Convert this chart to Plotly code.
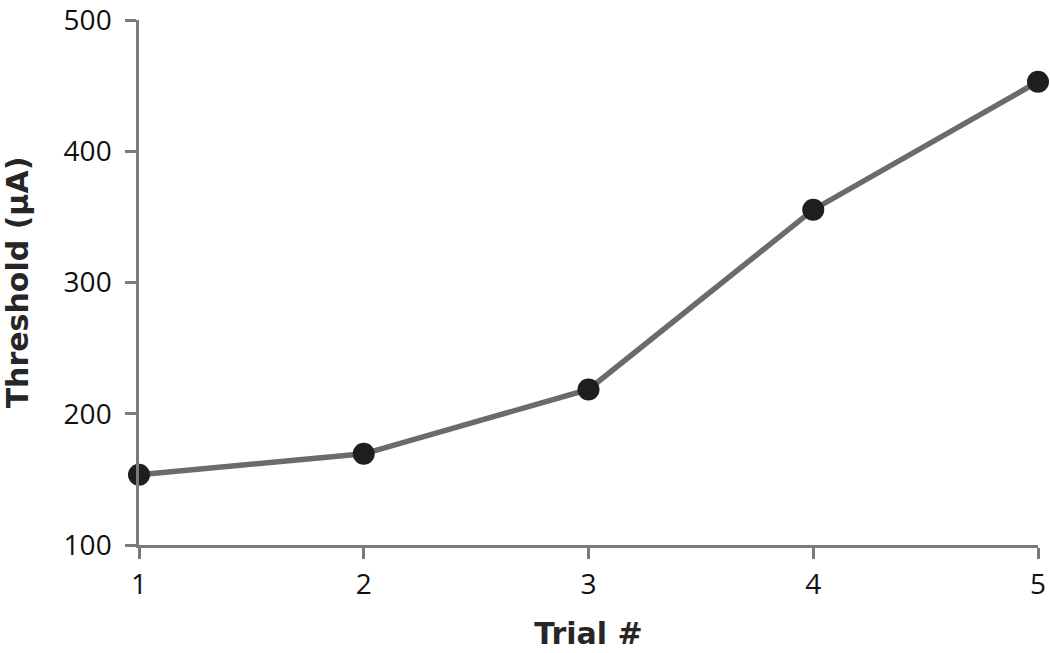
import plotly.graph_objects as go

trials = [1, 2, 3, 4, 5]
threshold = [153.5, 169.5, 218.5, 355.5, 453]
x_ticks = [1, 2, 3, 4, 5]
y_ticks = [100, 200, 300, 400, 500]

fig = go.Figure()
fig.add_trace(go.Scatter(
    x=trials, y=threshold, mode="lines+markers",
    line=dict(color="#6b6b6b", width=5.5),
    marker=dict(color="#1e1e1e", size=22),
    cliponaxis=False, showlegend=False,
))

axis_common = dict(
    showgrid=False, zeroline=False, showline=True, linecolor="#7a7a7a", linewidth=2.5,
    ticks="outside", ticklen=11, tickwidth=2.5, tickcolor="#7a7a7a",
    tickfont=dict(family="Open Sans", size=28, color="#111"),
    ticklabeloverflow="allow", automargin=False,
)
title_font = dict(family="DejaVu Sans", size=30, color="#262626", weight="bold")
fig.update_xaxes(range=[1, 5], tickvals=x_ticks, ticklabelstandoff=2,
                 title=dict(text="Trial #", font=title_font, standoff=22),
                 **axis_common)
fig.update_yaxes(range=[100, 500], tickvals=y_ticks, ticklabelstandoff=8,
                 title=dict(text="Threshold (µA)", font=title_font, standoff=29),
                 **axis_common)
fig.update_layout(
    width=1050, height=653,
    margin=dict(l=139, r=12, t=20, b=108),
    plot_bgcolor="white", paper_bgcolor="white",
)
fig.write_html("out.html", config={"displayModeBar": False},
               post_script="document.body.style.margin='0';")
